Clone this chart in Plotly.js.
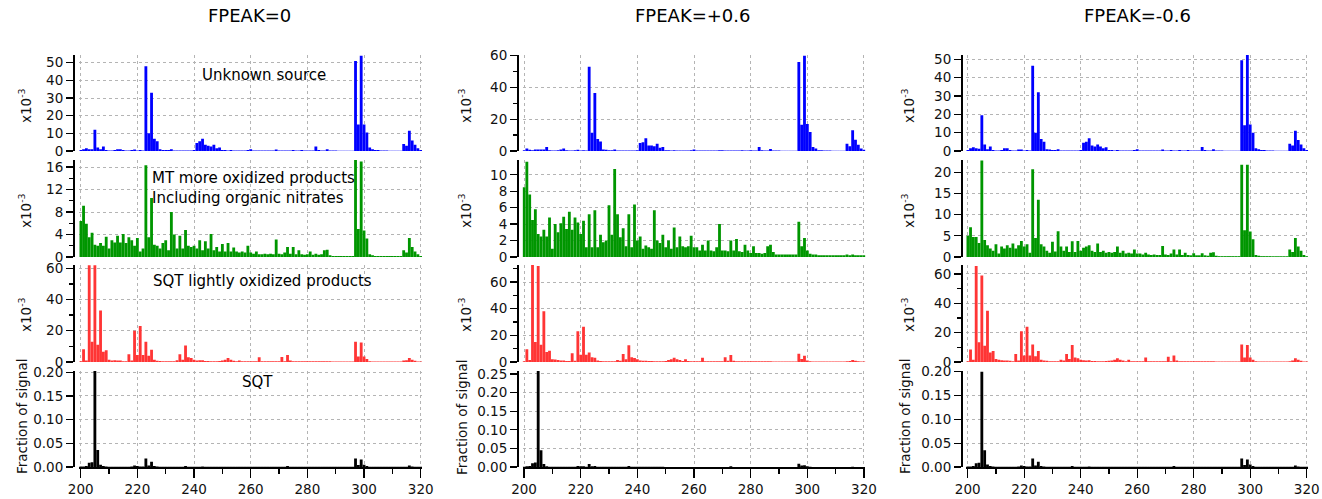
<!DOCTYPE html>
<html><head><meta charset="utf-8">
<script src="https://cdn.plot.ly/plotly-3.0.1.min.js"></script>
<style>html,body{margin:0;padding:0;background:#fff}#chart{width:1322px;height:499px}</style>
</head><body><div id="chart"></div>
<script>
// m/z categories (200..320)
const MZ = [200,201,202,203,204,205,206,207,208,209,210,211,212,213,214,215,216,217,218,219,
220,221,222,223,224,225,226,227,228,229,230,231,232,233,234,235,236,237,238,239,
240,241,242,243,244,245,246,247,248,249,250,251,252,253,254,255,256,257,258,259,
260,261,262,263,264,265,266,267,268,269,270,271,272,273,274,275,276,277,278,279,
280,281,282,283,284,285,286,287,288,289,290,291,292,293,294,295,296,297,298,299,
300,301,302,303,304,305,306,307,308,309,310,311,312,313,314,315,316,317,318,319,320];

const colTitles = ["FPEAK=0","FPEAK=+0.6","FPEAK=-0.6"];
const factorNames = ["Unknown source","MT more oxidized products<br>Including organic nitrates","SQT lightly oxidized products","SQT"];

// ---------- FPEAK = 0 ----------
const unknown_f0 = [0.5,1.0,1.5,1.0,1.0,12,2.0,1.0,2.5,0.5,
0.3,0.3,0.5,1.0,1.0,0.5,0.3,0.3,0.5,0.8,
0.3,0.5,0.3,48,10,33,7,5.5,1.0,0.5,
0.5,0.5,1.0,0.3,0.3,0.3,0.3,0.3,0.3,0.3,
0.5,4.5,5.5,7.0,3.5,3.0,2.5,3.5,1.5,2.0,
0.5,0.5,0.3,0.5,0.3,0.3,0.3,0.3,0.3,0.5,
1.0,0.3,0.3,0.3,0.3,0.3,0.3,0.3,0.3,0.8,
0.3,0.3,0.3,0.3,0.3,0.5,0.3,0.3,0.6,0.3,
0.3,0.3,0.3,2.5,0.5,0.3,0.3,1.0,0.3,0.3,
0.3,0.2,0.2,0.2,0.2,0.2,0.2,51,15,54,
15,10.5,2.0,1.0,0.5,0.5,0.3,0.3,0.3,0.2,
0.2,0.2,0.2,0.2,4.0,3.0,11.5,6.0,3.5,1.5,0.5];
const mt_f0 = [6.4,9.1,5.9,3.5,4.3,2.2,2.0,2.5,2.0,3.6,
1.5,3.0,2.6,3.8,2.6,4.1,2.5,3.5,3.0,2.0,
3.4,1.0,1.5,16.3,3.5,10.5,2.2,2.0,1.5,2.5,
3.0,1.2,8.0,4.0,1.5,3.8,1.5,4.8,2.0,1.8,
2.0,1.5,3.0,1.2,2.8,1.5,4.1,1.2,1.8,1.0,
2.3,1.0,2.5,1.0,1.7,1.0,0.8,1.0,0.8,2.0,
0.8,0.6,1.0,0.5,0.5,0.6,0.5,0.6,0.5,3.1,
0.6,0.5,0.8,1.8,0.6,1.8,0.5,1.2,0.5,0.4,
0.5,1.0,0.4,0.6,0.4,0.5,1.2,1.3,0.3,0.2,
0.2,0.2,0.2,0.2,0.2,0.2,0.2,17.3,5.0,17.0,
4.7,3.3,0.5,0.3,0.2,0.2,0.2,0.2,0.2,0.2,
0.2,0.2,0.2,0.2,1.2,0.8,3.4,1.8,1.0,0.5,0.2];
const sqtox_f0 = [0.5,8.2,1.0,62,13,62,11,33,6.5,7.5,
1.5,1.0,1.2,1.0,1.0,0.5,0.5,5.0,1.0,20,
4.5,23,4.5,13,4.0,7.8,1.5,0.8,0.6,0.5,
0.5,0.5,0.5,0.5,1.2,5.0,1.5,10.5,3.0,2.5,
1.5,1.0,1.2,1.2,0.6,0.6,0.5,0.5,0.5,0.6,
1.0,1.5,2.5,1.5,0.8,0.5,1.0,0.5,0.5,0.5,
0.5,0.5,0.5,3.0,0.5,0.5,0.5,0.5,0.5,0.5,
0.5,3.2,0.5,4.5,1.0,0.5,0.5,0.5,0.5,0.5,
0.5,0.5,0.5,0.5,0.5,0.5,0.5,0.5,0.5,0.3,
0.3,0.3,0.3,0.3,0.3,0.3,0.3,13,3.5,12.5,
3.5,2.0,0.5,0.3,0.3,0.3,0.3,0.3,0.3,0.3,
0.3,0.3,0.3,0.3,1.0,1.2,2.5,1.5,0.8,0.3,0.3];
const sqt_f0 = [0.001,0.001,0.002,0.009,0.010,0.205,0.036,0.005,0.002,0.001,
0.0005,0.0005,0.0005,0.0005,0.0005,0.0005,0.0005,0.0005,0.001,0.003,
0.002,0.001,0.001,0.018,0.003,0.011,0.002,0.001,0.0005,0.0005,
0.0005,0.0005,0.0005,0.0005,0.0005,0.0005,0.0005,0.002,0.0005,0.0005,
0.0005,0.0005,0.0005,0.001,0.0005,0.0005,0.0005,0.0005,0.0005,0.0005,
0.0003,0.0003,0.0003,0.0003,0.0003,0.0003,0.0003,0.0003,0.0003,0.0003,
0.0003,0.0003,0.0003,0.0003,0.0003,0.0003,0.0003,0.0003,0.0003,0.0003,
0.0003,0.0003,0.0003,0.002,0.0003,0.0003,0.0003,0.0003,0.0003,0.0003,
0.0003,0.0003,0.0003,0.0003,0.0003,0.0003,0.0003,0.0003,0.0003,0.0003,
0.0003,0.0003,0.0003,0.0003,0.0003,0.0003,0.0003,0.018,0.004,0.016,
0.005,0.002,0.0005,0.0003,0.0003,0.0003,0.0003,0.0003,0.0003,0.0003,
0.0003,0.0003,0.0003,0.0003,0.0003,0.0003,0.003,0.001,0.0003,0.0003,0.0003];

// ---------- FPEAK = +0.6 ----------
const unknown_p06 = [0.5,1.5,0.8,0.5,1.0,1.0,1.0,1.0,2.5,0.5,
0.3,0.3,0.5,1.0,1.5,0.5,0.3,0.3,0.5,0.8,
0.3,0.5,0.3,53,11.5,36.5,7.5,6.0,1.0,0.8,
0.5,0.5,1.0,0.3,0.3,0.3,0.3,0.3,0.3,0.3,
0.5,5.0,5.5,8.0,3.5,3.5,3.0,4.5,2.0,2.5,
0.5,0.5,0.3,0.5,0.3,0.3,0.3,0.3,0.3,0.5,
1.0,0.3,0.3,0.3,0.3,0.3,0.3,0.3,0.3,0.5,
0.5,0.3,0.3,0.3,0.3,0.3,0.3,0.5,0.3,0.3,
0.5,0.3,0.3,2.5,0.5,0.3,0.3,1.2,0.3,0.3,
0.3,0.2,0.2,0.2,0.2,0.2,0.2,56,16.5,60,
17,12,2.5,1.5,0.5,0.5,0.3,0.3,0.3,0.2,
0.2,0.2,0.2,0.2,4.5,3.0,13,7.0,4.0,1.5,0.8];
const mt_p06 = [8.5,11.6,7.6,4.5,5.8,2.8,2.5,3.3,2.5,4.8,
1.0,4.0,3.0,4.1,4.9,3.4,5.5,3.3,4.8,4.2,
2.8,4.4,1.2,5.2,1.2,5.7,1.2,2.7,1.8,2.0,
6.3,2.7,10.7,5.2,2.4,3.5,1.3,5.2,1.2,6.4,
2.0,2.5,1.0,1.4,1.2,1.0,5.7,2.0,1.7,2.7,
1.2,2.0,1.0,3.6,1.2,2.5,1.3,1.2,1.3,2.6,
1.2,1.2,0.8,1.5,0.8,2.0,0.8,0.7,1.2,4.0,
0.8,0.8,0.7,2.0,0.8,2.2,0.7,0.6,1.5,0.8,
0.5,1.3,0.5,0.5,0.4,0.5,1.3,1.5,0.6,0.3,
0.3,0.3,0.3,0.3,0.3,0.3,0.3,4.3,1.3,2.3,
0.8,0.4,0.3,0.3,0.2,0.2,0.2,0.2,0.2,0.2,
0.2,0.2,0.2,0.2,0.3,0.2,0.3,0.2,0.2,0.2,0.2];
const sqtox_p06 = [0.5,9.5,1.5,73,15,72,13,38,7.5,8.5,
2.0,1.8,1.5,1.2,1.2,0.8,0.8,6.5,1.0,23,
5.5,26.5,5.5,7.2,3.5,3.2,1.2,0.8,0.6,0.5,
0.5,0.5,0.5,1.5,1.0,6.0,2.0,12.5,3.5,3.0,
2.0,1.2,1.0,1.0,0.8,0.8,0.6,0.6,0.6,0.6,
0.8,1.5,2.0,3.2,2.0,1.5,0.8,2.0,0.8,0.5,
0.5,0.5,0.5,3.2,0.5,0.5,0.5,0.5,0.5,0.5,
0.5,3.5,1.0,5.2,1.0,0.5,0.5,0.5,0.5,0.5,
0.5,0.5,0.5,0.5,0.5,0.5,0.5,0.5,0.3,0.3,
0.3,0.3,0.3,0.3,0.3,0.3,0.3,6.2,2.2,4.7,
1.2,0.5,0.3,0.3,0.3,0.3,0.3,0.3,0.3,0.3,
0.3,0.3,0.3,0.3,0.5,0.8,1.5,1.0,0.5,0.3,0.3];
const sqt_p06 = [0.001,0.002,0.003,0.010,0.012,0.258,0.045,0.008,0.002,0.001,
0.0005,0.0005,0.0005,0.0005,0.0005,0.0005,0.0005,0.0005,0.001,0.003,
0.002,0.002,0.001,0.008,0.002,0.003,0.001,0.0005,0.0005,0.0005,
0.0005,0.0005,0.0005,0.0005,0.0005,0.0005,0.0005,0.003,0.0005,0.0005,
0.0005,0.0005,0.0005,0.0005,0.0005,0.0005,0.0005,0.0005,0.0005,0.0005,
0.0003,0.0003,0.0003,0.0003,0.0003,0.0003,0.0003,0.0003,0.0003,0.0003,
0.0003,0.0003,0.0003,0.0003,0.0003,0.0003,0.0003,0.0003,0.0003,0.0003,
0.0003,0.0003,0.0003,0.002,0.0003,0.0003,0.0003,0.0003,0.0003,0.0003,
0.0003,0.0003,0.0003,0.0003,0.0003,0.0003,0.0003,0.0003,0.0003,0.0003,
0.0003,0.0003,0.0003,0.0003,0.0003,0.0003,0.0003,0.009,0.004,0.005,
0.002,0.0005,0.0003,0.0003,0.0003,0.0003,0.0003,0.0003,0.0003,0.0003,
0.0003,0.0003,0.0003,0.0003,0.0003,0.0003,0.001,0.0003,0.0003,0.0003,0.0003];

// ---------- FPEAK = -0.6 ----------
const unknown_m06 = [0.5,1.5,2.0,1.5,1.2,19.5,3.5,1.0,2.5,0.5,
0.3,0.3,0.5,1.5,1.5,0.5,0.3,0.3,0.8,0.8,
0.3,0.5,0.3,46.5,10,32,6.5,5.0,1.0,0.8,
0.5,0.5,1.0,0.3,0.3,0.3,0.3,0.3,0.3,0.3,
0.5,4.5,5.0,7.0,3.0,2.5,3.5,2.5,1.5,2.0,
0.5,0.5,0.3,0.5,0.3,0.3,0.3,0.3,0.3,0.5,
1.0,0.3,0.3,0.3,0.3,0.3,0.3,0.3,0.3,0.8,
0.3,0.3,0.6,0.3,0.3,0.6,0.3,0.3,0.5,0.3,
0.3,0.3,0.3,2.2,0.5,0.3,0.3,1.0,0.3,0.3,
0.3,0.2,0.2,0.2,0.2,0.2,0.2,49.5,14,52.5,
14.5,10,1.5,1.0,0.5,0.5,0.3,0.3,0.3,0.2,
0.2,0.2,0.2,0.2,4.0,3.0,11,6.0,3.5,1.5,0.5];
const mt_m06 = [5.0,7.0,4.7,4.7,3.3,22.8,4.0,2.8,2.0,1.5,
3.0,0.8,2.5,2.0,2.8,2.2,3.2,2.0,2.8,3.8,
2.5,3.0,1.0,20.7,4.5,13.5,3.0,2.5,1.5,1.0,
3.6,1.3,6.1,2.5,1.5,2.5,1.2,3.7,1.2,3.8,
1.5,2.2,2.5,2.8,1.5,1.2,3.2,1.2,1.5,1.0,
1.2,1.0,1.2,2.5,1.0,1.5,0.8,1.0,0.8,1.8,
0.8,0.8,0.6,1.0,0.6,0.5,0.6,0.5,0.5,2.6,
0.6,0.5,0.8,1.8,0.6,1.8,0.5,1.0,0.5,0.4,
0.9,0.4,0.4,0.9,0.4,0.3,1.0,1.1,0.3,0.2,
0.2,0.2,0.2,0.2,0.2,0.2,0.2,21.8,6.3,21.8,
6.0,4.2,0.5,0.3,0.2,0.2,0.2,0.2,0.2,0.2,
0.2,0.2,0.2,0.2,1.8,1.2,4.5,2.5,1.5,0.5,0.2];
const sqtox_m06 = [0.5,8.5,1.5,65.5,13.5,59,11,35,6.5,7.5,
2.0,1.5,1.2,1.0,1.0,0.8,0.5,5.5,1.0,21,
4.5,24,4.5,12,4.0,7.5,1.5,1.0,0.8,0.5,
0.5,0.5,0.5,1.5,1.0,5.5,2.0,11.5,3.0,2.5,
1.5,1.2,1.0,1.2,0.6,0.6,0.5,0.5,0.5,0.6,
0.8,1.0,1.5,2.5,1.5,1.0,0.5,1.5,0.5,0.5,
0.5,0.5,0.5,3.0,0.5,0.5,0.5,0.5,0.5,0.5,
0.5,3.5,0.5,4.5,1.0,0.5,0.5,0.5,0.5,0.5,
0.5,0.5,0.5,0.5,0.5,0.5,0.5,0.5,0.3,0.3,
0.3,0.3,0.3,0.3,0.3,0.3,0.3,12,3.0,11.5,
3.0,1.5,0.5,0.3,0.3,0.3,0.3,0.3,0.3,0.3,
0.3,0.3,0.3,0.3,0.5,1.0,2.5,1.5,0.8,0.3,0.3];
const sqt_m06 = [0.001,0.001,0.002,0.008,0.009,0.200,0.035,0.005,0.002,0.001,
0.0005,0.0005,0.0005,0.0005,0.0005,0.0005,0.0005,0.0005,0.001,0.003,
0.002,0.001,0.001,0.018,0.003,0.011,0.002,0.001,0.0005,0.0005,
0.0005,0.0005,0.0005,0.0005,0.0005,0.0005,0.0005,0.002,0.0005,0.0005,
0.0005,0.0005,0.0005,0.001,0.0005,0.0005,0.0005,0.0005,0.0005,0.0005,
0.0003,0.0003,0.0003,0.0003,0.0003,0.0003,0.0003,0.0003,0.0003,0.0003,
0.0003,0.0003,0.0003,0.0003,0.0003,0.0003,0.0003,0.0003,0.0003,0.0003,
0.0003,0.0003,0.0003,0.002,0.0003,0.0003,0.0003,0.0003,0.0003,0.0003,
0.0003,0.0003,0.0003,0.0003,0.0003,0.0003,0.0003,0.0003,0.0003,0.0003,
0.0003,0.0003,0.0003,0.0003,0.0003,0.0003,0.0003,0.018,0.004,0.016,
0.005,0.002,0.0005,0.0003,0.0003,0.0003,0.0003,0.0003,0.0003,0.0003,
0.0003,0.0003,0.0003,0.0003,0.0003,0.0003,0.003,0.001,0.0003,0.0003,0.0003];

const series = [
  [unknown_f0, mt_f0, sqtox_f0, sqt_f0],
  [unknown_p06, mt_p06, sqtox_p06, sqt_p06],
  [unknown_m06, mt_m06, sqtox_m06, sqt_m06]
];

// ---------- styling / layout ----------
const W = 1322, H = 499;
const FONT = "DejaVu Sans";
const TICK = 13.5;
const rowColors = ["#0000ff", "#009600", "#ff3535", "#000000"];
const colX = [[79.3,422.1],[522.6,865.4],[966.3,1308.1]];
const yAxisX = [73, 517, 961];
const rowY = [[55,151],[160,257],[265,362],[371,467]];
const yMax = [[54.4,17.25,62.1,0.2027],[60.4,11.8,72.75,0.258],[52.35,22.9,66.1,0.2015]];
const yDtick = [[10,4,20,0.05],[20,2,20,0.05],[10,5,20,0.05]];
const yMinor = [[null,2,10,null],[10,null,10,null],[null,null,10,null]];
const ylabX = [25, 465, 908];
const ylabY = [106, 211, 315];
const titleX = [250, 693, 1137];

const fx = p => p / W;
const fy = p => 1 - p / H;

const traces = [];
const layout = {
  width: W, height: H,
  margin: {l:0, r:0, t:0, b:0},
  paper_bgcolor: "#fff", plot_bgcolor: "rgba(0,0,0,0)",
  showlegend: false,
  barmode: "overlay",
  font: {family: FONT, size: TICK, color: "#000"},
  annotations: []
};

for (let c = 0; c < 3; c++) {
  for (let r = 0; r < 4; r++) {
    const i = c*4 + r + 1;
    const xn = i === 1 ? "x" : "x" + i;
    const yn = i === 1 ? "y" : "y" + i;
    traces.push({
      type: "bar", x: MZ, y: series[c][r], width: 1,
      xaxis: xn, yaxis: yn,
      marker: {color: rowColors[r], line: {width: 0}},
      hoverinfo: "skip"
    });
    const bottom = r === 3;
    layout["xaxis" + (i === 1 ? "" : i)] = {
      domain: [fx(colX[c][0]), fx(colX[c][1])],
      anchor: yn,
      range: [199.5, 320.5],
      tick0: 200, dtick: 20,
      showgrid: true, gridcolor: "#b4b4b4", griddash: "3px,3px", gridwidth: 1,
      zeroline: false,
      showline: bottom, linecolor: "#000", linewidth: 1.5,
      ticks: bottom ? "outside" : "", ticklen: 9, tickwidth: 1.3, tickcolor: "#000",
      minor: bottom ? {dtick: 10, ticks: "outside", ticklen: 5, tickwidth: 1.3, tickcolor: "#000", showgrid: false} : undefined,
      showticklabels: bottom,
      tickfont: {family: FONT, size: TICK, color: "#111"},
      fixedrange: true
    };
    const ya = {
      domain: [fy(rowY[r][1]), fy(rowY[r][0])],
      anchor: "free", position: fx(yAxisX[c]),
      range: [0, yMax[c][r]],
      tick0: 0, dtick: yDtick[c][r],
      showgrid: true, gridcolor: "#b4b4b4", griddash: "3px,3px", gridwidth: 1,
      zeroline: false,
      showline: true, linecolor: "#000", linewidth: 1.5,
      ticks: "outside", ticklen: 7, tickwidth: 1.3, tickcolor: "#000",
      tickfont: {family: FONT, size: TICK, color: "#111"},
      tickformat: r === 3 ? ".2f" : "",
      fixedrange: true
    };
    if (yMinor[c][r]) ya.minor = {dtick: yMinor[c][r], ticks: "outside", ticklen: 4, tickwidth: 1.3, tickcolor: "#000", showgrid: false};
    layout["yaxis" + (i === 1 ? "" : i)] = ya;

    // y-axis labels
    if (r < 3) {
      layout.annotations.push({
        xref: "paper", yref: "paper", x: fx(ylabX[c]), y: fy(ylabY[r]),
        text: "x10<sup>-3</sup>", textangle: -90, showarrow: false,
        xanchor: "center", yanchor: "middle",
        font: {family: FONT, size: 13.5, color: "#111"}
      });
    } else {
      layout.annotations.push({
        xref: "paper", yref: "paper", x: fx(ylabX[c] - 3), y: fy(417),
        text: "Fraction of signal", textangle: -90, showarrow: false,
        xanchor: "center", yanchor: "middle",
        font: {family: FONT, size: 13.5, color: "#111"}
      });
    }
  }
  layout.annotations.push({
    xref: "paper", yref: "paper", x: fx(titleX[c]), y: fy(15),
    text: colTitles[c], showarrow: false, xanchor: "center", yanchor: "middle",
    font: {family: FONT, size: 18, color: "#000"}
  });
}

// factor names (first column only)
layout.annotations.push({xref:"paper", yref:"paper", x: fx(264), y: fy(75), text: factorNames[0],
  showarrow:false, xanchor:"center", yanchor:"middle", font:{family:FONT, size:15, color:"#000"}});
layout.annotations.push({xref:"paper", yref:"paper", x: fx(150), y: fy(188), text: factorNames[1],
  showarrow:false, xanchor:"left", yanchor:"middle", align:"left", font:{family:FONT, size:15, color:"#000"}});
layout.annotations.push({xref:"paper", yref:"paper", x: fx(151), y: fy(281), text: factorNames[2],
  showarrow:false, xanchor:"left", yanchor:"middle", font:{family:FONT, size:15, color:"#000"}});
layout.annotations.push({xref:"paper", yref:"paper", x: fx(257), y: fy(382), text: factorNames[3],
  showarrow:false, xanchor:"center", yanchor:"middle", font:{family:FONT, size:15, color:"#000"}});

Plotly.newPlot("chart", traces, layout, {staticPlot: true, displayModeBar: false});
</script>
</body></html>
